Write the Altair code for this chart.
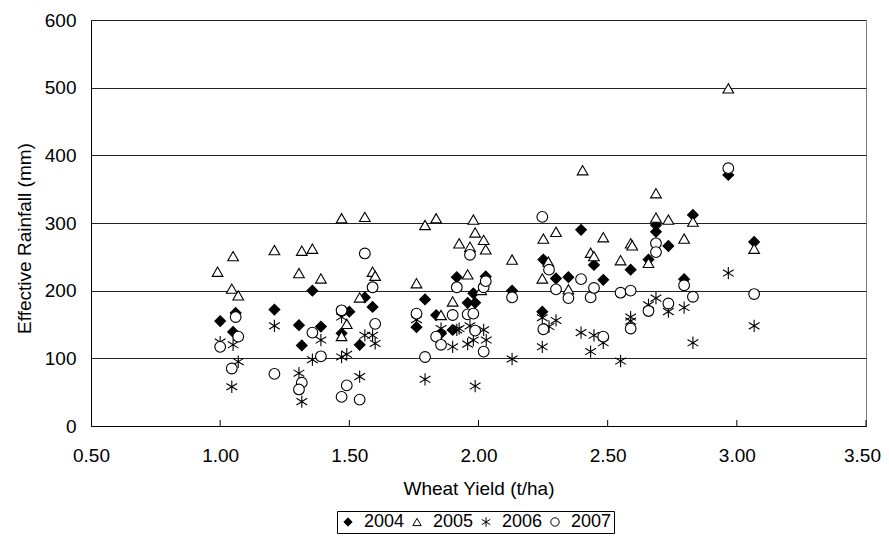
import altair as alt
import pandas as pd

FONT = "Liberation Sans"

years = ["2004", "2005", "2006", "2007"]

x2004 = [1.00, 1.06, 1.05, 1.21, 1.305, 1.316, 1.357, 1.39, 1.50, 1.47, 1.54, 1.56, 1.59,
         1.76, 1.793, 1.836, 1.855, 1.90, 1.916, 1.958, 1.987, 1.98, 2.028, 2.13, 2.251,
         2.247, 2.30, 2.348, 2.397, 2.447, 2.483, 2.589, 2.658, 2.687, 2.687, 2.735, 2.796,
         2.83, 2.967, 3.067]
y2004 = [155, 167, 139, 172, 149, 119, 200, 147, 169, 137, 120, 190, 176,
         146, 187, 164, 137, 142, 220, 182, 182, 196, 221, 200, 246,
         169, 218, 220, 290, 238, 216, 231, 246, 297, 287, 266, 217,
         312, 371, 272]

x2005 = [0.99, 1.05, 1.045, 1.07, 1.21, 1.305, 1.316, 1.357, 1.39, 1.47, 1.56, 1.59, 1.60,
         1.54, 1.49, 1.47, 1.76, 1.793, 1.836, 1.855, 1.90, 1.925, 1.958, 1.967, 1.98,
         1.987, 2.01, 2.02, 2.028, 2.13, 2.247, 2.251, 2.27, 2.30, 2.348, 2.403, 2.434,
         2.447, 2.483, 2.55, 2.589, 2.595, 2.658, 2.687, 2.687, 2.735, 2.796, 2.83, 2.967,
         3.067]
y2005 = [228, 251, 203, 193, 260, 226, 259, 262, 218, 307, 309, 228, 222,
         190, 151, 133, 211, 297, 307, 164, 184, 270, 224, 265, 305,
         286, 201, 275, 261, 246, 218, 277, 243, 287, 202, 378, 256,
         251, 279, 245, 270, 267, 241, 344, 308, 305, 277, 302, 499,
         262]

x2006 = [1.00, 1.05, 1.07, 1.045, 1.21, 1.305, 1.316, 1.357, 1.39, 1.47, 1.47, 1.49, 1.54,
         1.56, 1.59, 1.60, 1.76, 1.793, 1.855, 1.90, 1.916, 1.925, 1.958, 1.967, 1.98,
         1.987, 2.02, 2.03, 2.13, 2.247, 2.247, 2.273, 2.30, 2.397, 2.434, 2.447, 2.483,
         2.55, 2.589, 2.589, 2.658, 2.687, 2.735, 2.796, 2.83, 2.967, 3.067]
y2006 = [124, 120, 95, 58, 148, 78, 36, 98, 127, 161, 102, 106, 73,
         134, 134, 122, 157, 69, 144, 117, 142, 144, 121, 148, 127,
         59, 142, 127, 99, 160, 117, 147, 156, 138, 110, 134, 123,
         96, 161, 155, 179, 189, 169, 175, 123, 226, 148]

x2007 = [1.00, 1.06, 1.07, 1.045, 1.21, 1.316, 1.305, 1.357, 1.39, 1.47, 1.49, 1.47, 1.54,
         1.56, 1.59, 1.60, 1.76, 1.793, 1.836, 1.855, 1.90, 1.916, 1.958, 1.967, 1.98,
         1.987, 2.02, 2.02, 2.028, 2.13, 2.247, 2.251, 2.273, 2.30, 2.348, 2.397, 2.434,
         2.447, 2.483, 2.55, 2.589, 2.589, 2.658, 2.687, 2.687, 2.735, 2.796, 2.83, 2.967,
         3.067]
y2007 = [117, 161, 132, 85, 77, 64, 54, 138, 103, 171, 60, 43, 39,
         255, 205, 151, 166, 102, 132, 120, 164, 205, 165, 253, 166,
         141, 205, 110, 214, 190, 309, 143, 231, 202, 189, 217, 190,
         204, 132, 197, 200, 144, 170, 270, 257, 181, 208, 191, 381,
         195]

x_ticks = [0.5, 1.0, 1.5, 2.0, 2.5, 3.0, 3.5]
y_ticks = [0, 100, 200, 300, 400, 500, 600]

series = {"2004": (x2004, y2004), "2005": (x2005, y2005),
          "2006": (x2006, y2006), "2007": (x2007, y2007)}
rows = []
for yr in years:
    xs, ys = series[yr]
    for a, b in zip(xs, ys):
        rows.append({"year": yr, "yield": a, "rain": b})
df = pd.DataFrame(rows)

STAR = "M0,-1.15L0,1.15M-1,-0.62L1,0.62M-1,0.62L1,-0.62"

xscale = alt.Scale(domain=[0.5, 3.5], nice=False, zero=False)
yscale = alt.Scale(domain=[0, 600], nice=False)

leg = alt.Legend(title=None, orient="none", legendX=246, legendY=491,
                 direction="horizontal", strokeColor="black",
                 padding=2, symbolSize=70, symbolStrokeWidth=1,
                 symbolStrokeColor="black", labelFontSize=18, labelOffset=7,
                 columnPadding=3)

points = alt.Chart(df).mark_point(size=115, strokeWidth=1.1, opacity=1).encode(
    x=alt.X("yield:Q", scale=xscale,
            axis=alt.Axis(values=x_ticks, format=".2f", title="Wheat Yield (t/ha)",
                          grid=False, ticks=False, tickSize=0, labelPadding=20,
                          labelFlush=False,
                          labelOffset={"condition": {"test": "datum.value >= 3.4", "value": -4},
                                       "value": 0},
                          domainColor="black", titleY=68, titleBaseline="alphabetic")),
    y=alt.Y("rain:Q", scale=yscale,
            axis=alt.Axis(values=y_ticks, title="Effective Rainfall (mm)", grid=True,
                          gridColor="#222", ticks=False, tickSize=0, labelPadding=15,
                          labelFlush=False,
                          domainColor="black", titleX=-67, titleY=218, titleAngle=270,
                          titleBaseline="middle", titleAnchor="middle")),
    shape=alt.Shape("year:N", scale=alt.Scale(domain=years,
                    range=["diamond", "triangle-up", STAR, "circle"]),
                    legend=leg),
    fill=alt.Fill("year:N", scale=alt.Scale(domain=years,
                  range=["black", "white", "white", "white"]), legend=leg),
    stroke=alt.Stroke("year:N", scale=alt.Scale(domain=years,
                      range=["black", "black", "black", "black"]), legend=leg),
    order=alt.Order("year:N"),
)

tick_df = pd.DataFrame({"t": x_ticks[1:]})
ticks = alt.Chart(tick_df).mark_rule(color="black", strokeWidth=1).encode(
    x=alt.X("t:Q", scale=xscale),
    y=alt.value(400),
    y2=alt.value(406),
)

chart = alt.layer(points, ticks).properties(
    width=775, height=406, autosize="none",
    padding={"left": 83, "top": 12, "right": 15, "bottom": 108},
).configure(font=FONT).configure_view(
    stroke="#808080", strokeWidth=1
).configure_axis(
    labelFont=FONT, titleFont=FONT, labelFontSize=19, titleFontSize=19,
    labelColor="black", titleColor="black", titleFontWeight="normal",
    domainWidth=1, gridWidth=1,
).configure_legend(
    labelFont=FONT, labelColor="black", symbolStrokeColor="black",
)

chart.save("out.html", embed_options={"renderer": "svg", "actions": False})
